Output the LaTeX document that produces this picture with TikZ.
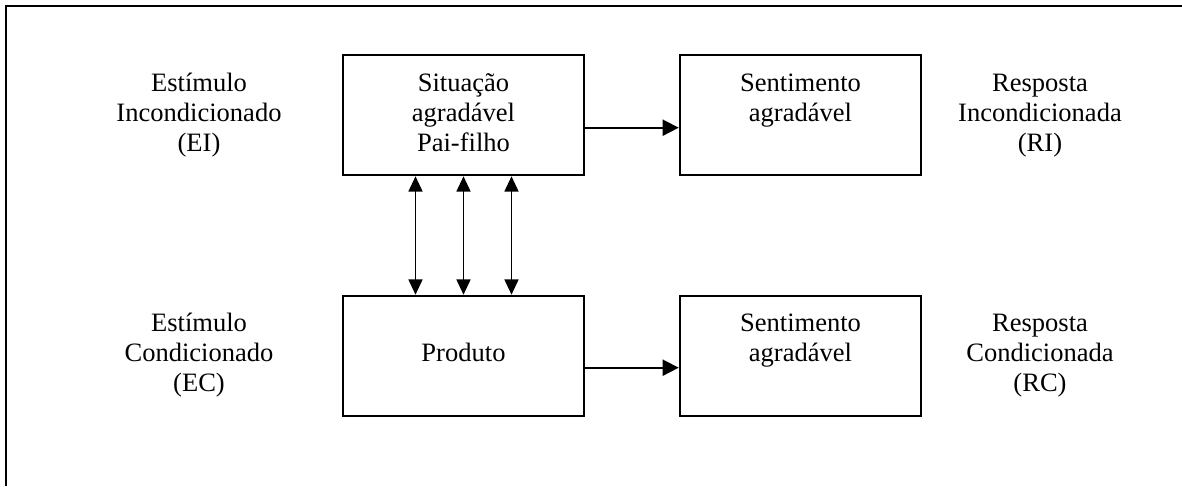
\documentclass[tikz,border=0pt]{standalone}
\usepackage{fontspec}
\setmainfont{Liberation Serif}
\usetikzlibrary{arrows.meta,calc}
\begin{document}
\begin{tikzpicture}[x=0.75pt,y=-0.75pt,
  box/.style={draw,line width=1.9pt,minimum width=180.75pt,minimum height=90pt,inner sep=0pt},
  lbl/.style={align=center,anchor=base,inner sep=0pt,font=\fontsize{19.9}{22.5}\selectfont},
  arr/.style={line width=1.3pt,-{Triangle[length=12pt,width=12pt]}},
  darr/.style={line width=1.3pt,{Triangle[length=11.5pt,width=10.5pt]}-{Triangle[length=11.5pt,width=10.5pt]}}]
\useasboundingbox (0,0) rectangle (1182,486);
% open frame: left and top sides only
\draw[line width=1.9pt] (6,486) -- (6,6) -- (1182,6);

% boxes
\node[box] (sit) at (463.5,115) {};
\node[box] (sent1) at (800.5,115) {};
\node[box] (prod) at (463.5,356) {};
\node[box] (sent2) at (800.5,356) {};

% box texts (anchored at the baseline of the last line)
\node[lbl] (tsit) at (463.5,151.7) {Situação\\agradável\\Pai-filho};
\node[lbl] (tsent1) at (800.5,121.7) {Sentimento\\agradável};
\node[lbl] (tprod) at (463.5,361.7) {Produto};
\node[lbl] (tsent2) at (800.5,361.7) {Sentimento\\agradável};

% side labels
\node[lbl] (ei) at (199,151.7) {Estímulo\\Incondicionado\\(EI)};
\node[lbl] (ri) at (1040,151.7) {Resposta\\Incondicionada\\(RI)};
\node[lbl] (ec) at (199,391.7) {Estímulo\\Condicionado\\(EC)};
\node[lbl] (rc) at (1040,391.7) {Resposta\\Condicionada\\(RC)};

% connectors
\draw[arr] ($(sit.east)+(0,12.7)$) -- ($(sent1.west)+(0,12.7)$);
\draw[arr] ($(prod.east)+(0,11.7)$) -- ($(sent2.west)+(0,11.7)$);
\foreach \dx in {-48,0,48}
  \draw[darr] ($(sit.south)+(\dx,0)$) -- ($(prod.north)+(\dx,0)$);
\end{tikzpicture}
\end{document}
